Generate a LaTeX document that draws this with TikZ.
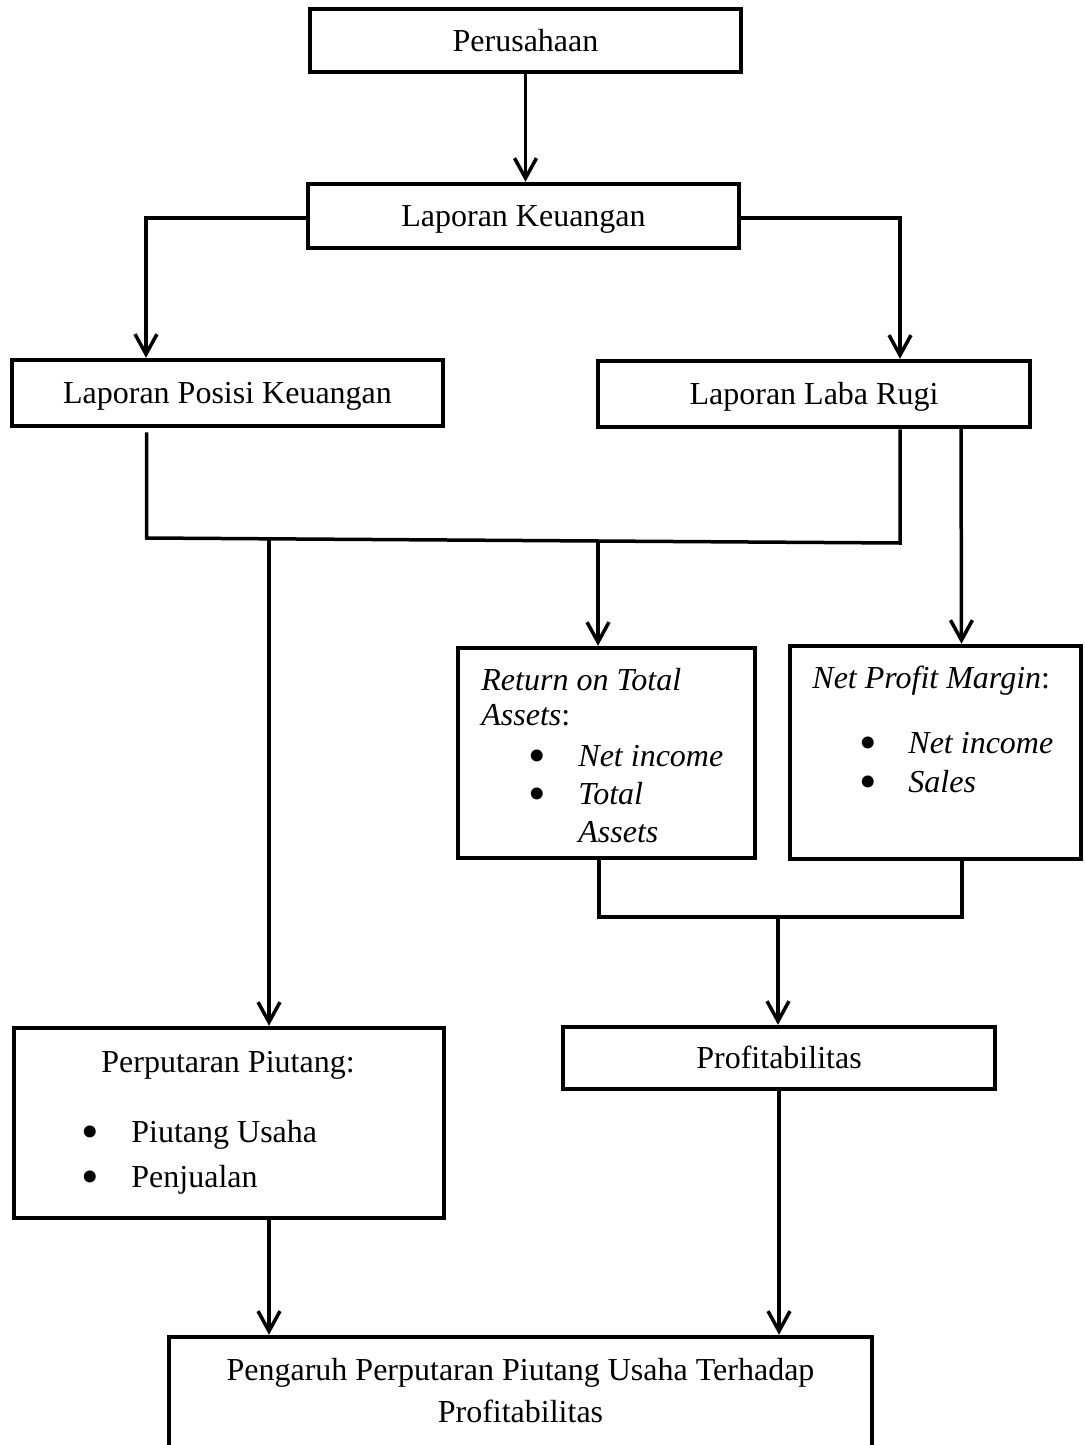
\documentclass[tikz,border=0pt]{standalone}
\usepackage{fontspec}
\setmainfont{Liberation Serif}
\usetikzlibrary{arrows.meta}
\begin{document}
\begin{tikzpicture}[x=0.5pt,y=-0.5pt,
  box/.style={draw, line width=2.25pt, inner sep=0pt, text height=10.6pt, text depth=0pt, font=\fontsize{16}{19}\selectfont},
  conn/.style={line width=1.75pt},
  arr/.style={conn, -{Straight Barb[length=10pt,width=11pt]}},
  txt/.style={inner sep=0pt, font=\fontsize{16}{19}\selectfont},
  bul/.style={inner sep=0pt, anchor=base, yshift=-3pt, font=\fontsize{25}{27}\selectfont},
]
\clip (0,0) rectangle (1084,1445);
\fill[white] (0,0) rectangle (1084,1445);

% boxes
\node[box, minimum width=215.5pt, minimum height=31.5pt] (per) at (525.5,40.5) {Perusahaan};
\node[box, minimum width=215.5pt, minimum height=32pt] (lk) at (523.5,216) {Laporan Keuangan};
\node[box, minimum width=215.5pt, minimum height=33pt] (lpk) at (227.5,393) {Laporan Posisi Keuangan};
\node[box, minimum width=216pt, minimum height=33pt] (llr) at (814,394) {Laporan Laba Rugi};
\node[box, minimum width=148.5pt, minimum height=105pt] (rota) at (606.5,753) {};
\node[box, minimum width=145.5pt, minimum height=106.5pt] (npm) at (935.5,752.5) {};
\node[box, minimum width=215pt, minimum height=95pt] (pp) at (229,1123) {};
\node[box, minimum width=216pt, minimum height=31pt] (prof) at (779,1058) {Profitabilitas};
\node[box, minimum width=351.5pt, minimum height=66.5pt] (peng) at (520.5,1403.5) {};

% texts in ROTA box
\node[txt, anchor=base west] (rota1) at (481,690) {\itshape Return on Total};
\node[txt, anchor=base west] (rota2) at (481,725) {\textit{Assets}:};
\node[bul] (rotab1) at (537,766) {•};
\node[bul] (rotab2) at (537,804) {•};
\node[txt, anchor=base west] (rota3) at (578,766) {\itshape Net income};
\node[txt, anchor=base west] (rota4) at (578,804) {\itshape Total};
\node[txt, anchor=base west] (rota5) at (578,842) {\itshape Assets};

% texts in NPM box
\node[txt, anchor=base west] (npm1) at (812,688) {\textit{Net Profit Margin}:};
\node[bul] (npmb1) at (868,753) {•};
\node[bul] (npmb2) at (868,792) {•};
\node[txt, anchor=base west] (npm2) at (908,753) {\itshape Net income};
\node[txt, anchor=base west] (npm3) at (908,792) {\itshape Sales};

% texts in PP box
\node[txt, anchor=base] (pp1) at (228,1072) {Perputaran Piutang:};
\node[bul] (ppb1) at (90,1142) {•};
\node[bul] (ppb2) at (90,1187) {•};
\node[txt, anchor=base west] (pp2) at (131,1142) {Piutang Usaha};
\node[txt, anchor=base west] (pp3) at (131,1187) {Penjualan};

% texts in bottom box
\node[txt, anchor=base] (peng1) at (520.5,1380) {Pengaruh Perputaran Piutang Usaha Terhadap};
\node[txt, anchor=base] (peng2) at (520.5,1422) {Profitabilitas};

% connectors
\draw[arr] (per.south) -- (per.south |- lk.north);
\draw[arr] ([yshift=-1pt]lk.west) -| ([xshift=-40.75pt]lpk.north);
\draw[arr] ([yshift=-1pt]lk.east) -| ([xshift=43pt]llr.north);

\coordinate (jl) at (146.5,538);
\coordinate (jr) at (900,543);
\draw[conn] ([xshift=-40.5pt,yshift=-2pt]lpk.south) -- (jl) -- (jr) -- ([xshift=43pt]llr.south);

\coordinate (ja) at (269,539.6);
\draw[arr] (ja) -- (ja |- pp.north);
\coordinate (jb) at (598,541.7);
\draw[arr] (jb) -- (jb |- rota.north);
\draw[arr] ([xshift=73.5pt,yshift=2pt]llr.south) -- ([xshift=13pt]npm.north);

\coordinate (jc) at (599,917);
\coordinate (jd) at (962,917);
\draw[conn] ([xshift=-3.75pt]rota.south) -- (jc) -- (jd) -- ([xshift=13.25pt]npm.south);
\coordinate (je) at (778,917);
\draw[arr] (je) -- (je |- prof.north);

\coordinate (ppo) at ([xshift=20pt]pp.south);
\draw[arr] (ppo) -- (ppo |- peng.north);
\draw[arr] (prof.south) -- (prof.south |- peng.north);
\end{tikzpicture}
\end{document}
